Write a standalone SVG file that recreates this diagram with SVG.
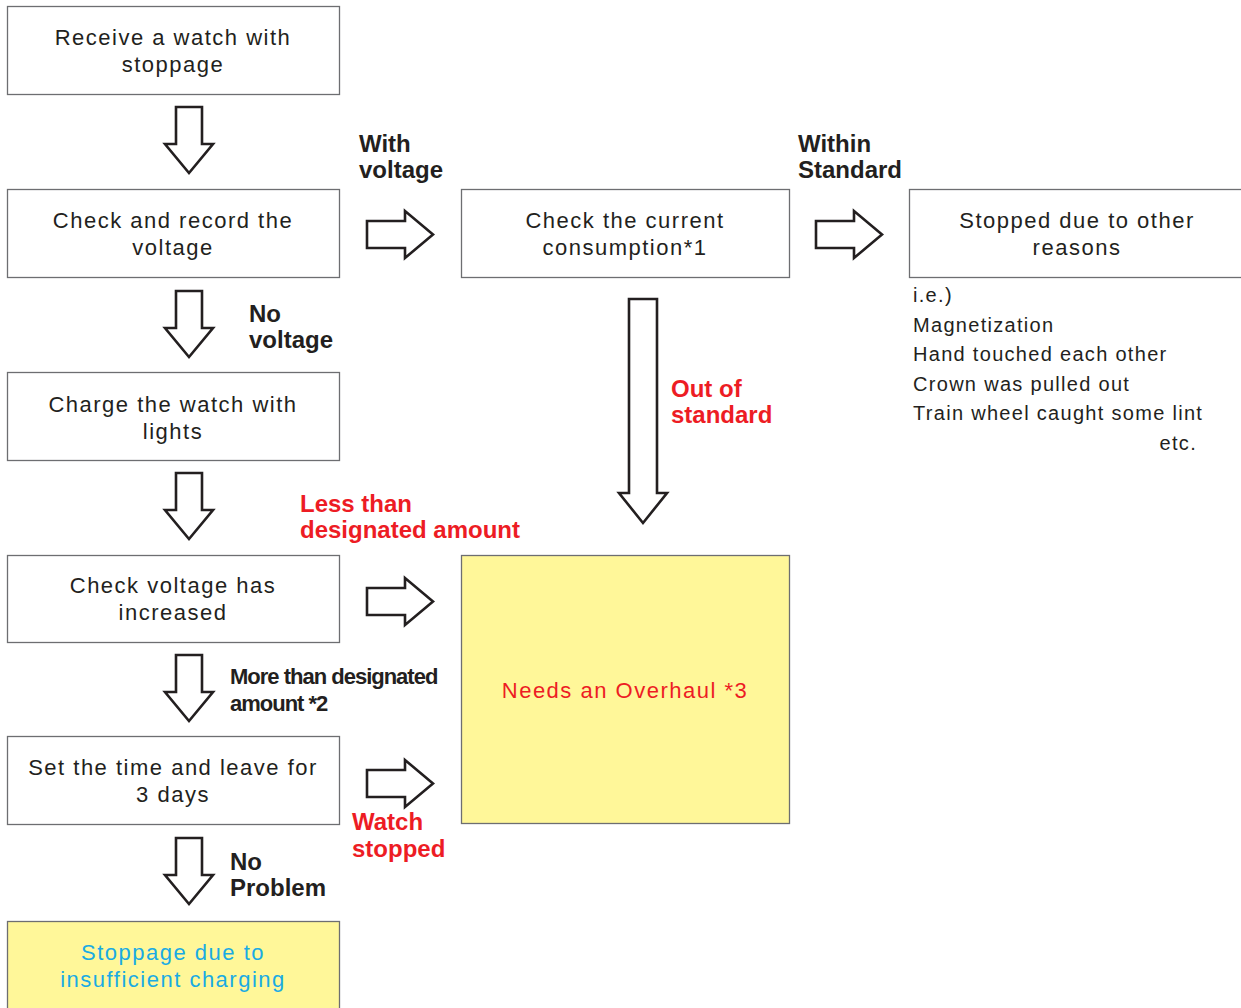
<svg xmlns="http://www.w3.org/2000/svg" width="1241" height="1008" viewBox="0 0 1241 1008">
<defs>
<style>
.box{fill:#fff;stroke:#6d6e71;stroke-width:1.3}
.ybox{fill:#fff799;stroke:#6d6e71;stroke-width:1.3}
.t{font-family:"Liberation Sans",Arial,sans-serif;font-size:22px;fill:#231f20;letter-spacing:1.5px;text-anchor:middle}
.l{font-family:"Liberation Sans",Arial,sans-serif;font-size:24px;font-weight:bold;fill:#231f20}
.red{fill:#ed1c24}
.blue{fill:#1aabe3}
.list{font-family:"Liberation Sans",Arial,sans-serif;font-size:20px;fill:#231f20;letter-spacing:1.3px}
.arr{fill:#fff;stroke:#231f20;stroke-width:2.6;stroke-linejoin:miter}
</style>
<path id="down" d="M0,0 H26 V37 H37 L13,66 L-11,37 H0 Z"/>
<path id="right" d="M0,0 H38 V-10 L66,13.5 L38,37 V27 H0 Z"/>
</defs>

<g id="connectors">
<use href="#down" class="arr" x="176" y="107"/>
<use href="#down" class="arr" x="176" y="291"/>
<use href="#down" class="arr" x="176" y="473"/>
<use href="#down" class="arr" x="176" y="655"/>
<use href="#down" class="arr" x="176" y="838"/>
<use href="#right" class="arr" x="367" y="221"/>
<use href="#right" class="arr" x="816" y="221"/>
<use href="#right" class="arr" x="367" y="588"/>
<use href="#right" class="arr" x="367" y="770"/>
<path class="arr" d="M629,299 H657 V493 H667 L643,523 L619,493 H629 Z"/>
</g>

<g id="labels">
<text class="l" x="359" y="152">With</text>
<text class="l" x="359" y="178">voltage</text>
<text class="l" x="798" y="152">Within</text>
<text class="l" x="798" y="178">Standard</text>
<text class="l" x="249" y="322">No</text>
<text class="l" x="249" y="348">voltage</text>
<text class="l red" x="671" y="397">Out of</text>
<text class="l red" x="671" y="423">standard</text>
<text class="l red" x="300" y="512">Less than</text>
<text class="l red" x="300" y="538">designated amount</text>
<text class="l" x="230" y="684" style="font-size:22px;letter-spacing:-1px">More than designated</text>
<text class="l" x="230" y="711" style="font-size:22px;letter-spacing:-1px">amount *2</text>
<text class="l red" x="352" y="830">Watch</text>
<text class="l red" x="352" y="857">stopped</text>
<text class="l" x="230" y="870">No</text>
<text class="l" x="230" y="896">Problem</text>
</g>

<g id="receive">
<rect class="box" x="7.5" y="6.5" width="332" height="88"/>
<text class="t" x="173" y="45">Receive a watch with</text>
<text class="t" x="173" y="72">stoppage</text>
</g>

<g id="check-voltage">
<rect class="box" x="7.5" y="189.5" width="332" height="88"/>
<text class="t" x="173" y="228">Check and record the</text>
<text class="t" x="173" y="255">voltage</text>
</g>

<g id="charge">
<rect class="box" x="7.5" y="372.5" width="332" height="88"/>
<text class="t" x="173" y="412">Charge the watch with</text>
<text class="t" x="173" y="439">lights</text>
</g>

<g id="check-increased">
<rect class="box" x="7.5" y="555.5" width="332" height="87"/>
<text class="t" x="173" y="593">Check voltage has</text>
<text class="t" x="173" y="620">increased</text>
</g>

<g id="set-time">
<rect class="box" x="7.5" y="736.5" width="332" height="88"/>
<text class="t" x="173" y="775">Set the time and leave for</text>
<text class="t" x="173" y="802">3 days</text>
</g>

<g id="insufficient">
<rect class="ybox" x="7.5" y="921.5" width="332" height="92"/>
<text class="t blue" x="173" y="960">Stoppage due to</text>
<text class="t blue" x="173" y="987">insufficient charging</text>
</g>

<g id="current">
<rect class="box" x="461.5" y="189.5" width="328" height="88"/>
<text class="t" x="625" y="228">Check the current</text>
<text class="t" x="625" y="255">consumption*1</text>
</g>

<g id="overhaul">
<rect class="ybox" x="461.5" y="555.5" width="328" height="268"/>
<text class="t red" x="625" y="698">Needs an Overhaul *3</text>
</g>

<g id="other-reasons">
<rect class="box" x="909.5" y="189.5" width="340" height="88"/>
<text class="t" x="1077" y="228">Stopped due to other</text>
<text class="t" x="1077" y="255">reasons</text>
<text class="list" x="913" y="302">i.e.)</text>
<text class="list" x="913" y="332">Magnetization</text>
<text class="list" x="913" y="361">Hand touched each other</text>
<text class="list" x="913" y="391">Crown was pulled out</text>
<text class="list" x="913" y="420">Train wheel caught some lint</text>
<text class="list" x="1197" y="450" text-anchor="end">etc.</text>
</g>
</svg>
